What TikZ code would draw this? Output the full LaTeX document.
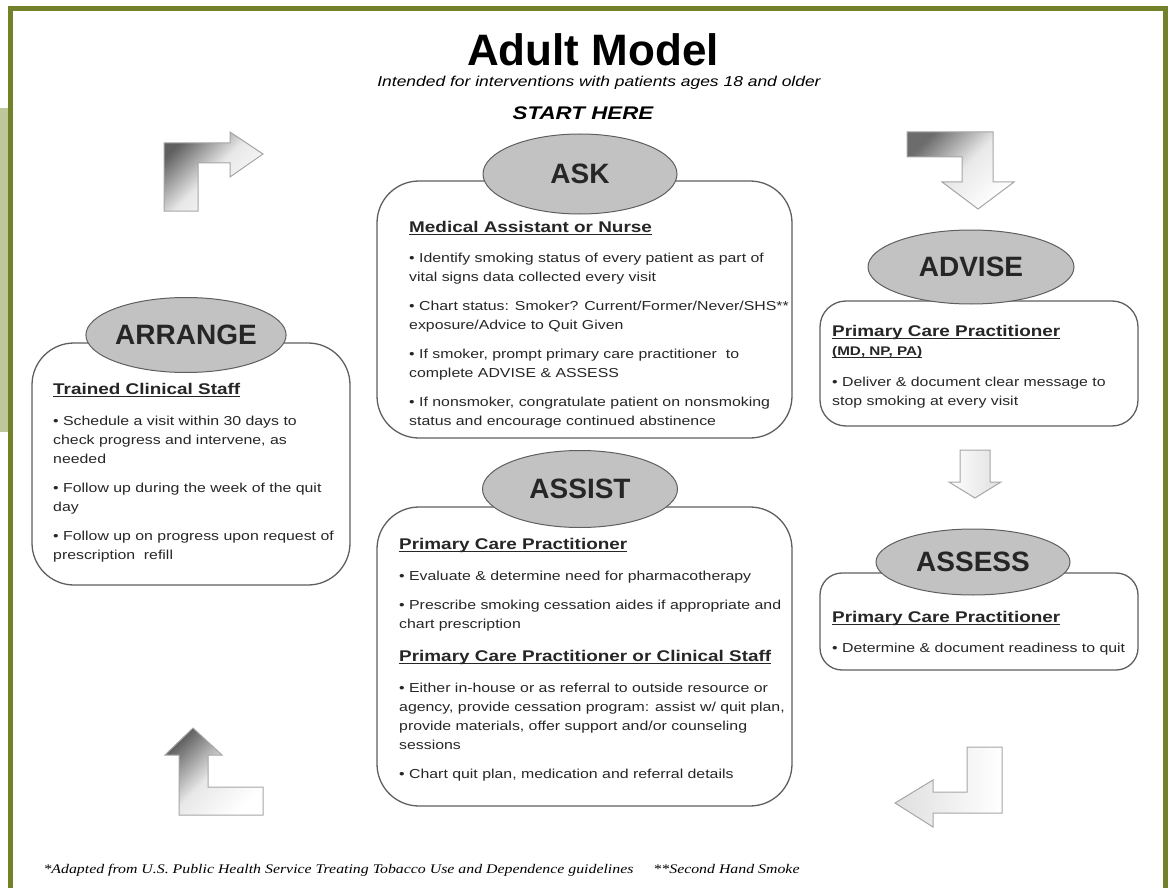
\documentclass[tikz,border=0pt]{standalone}
\usepackage{fontspec}
\setmainfont{Liberation Sans}
\newfontfamily\bodyfont{Liberation Sans}[FakeStretch=1.22]
\newfontfamily\notefont{Liberation Serif}[FakeStretch=1.2]
\usetikzlibrary{shapes.geometric}
\definecolor{framegreen}{RGB}{114,130,42}
\definecolor{stripgreen}{RGB}{190,199,152}
\definecolor{phasegray}{RGB}{194,194,194}
\definecolor{linegray}{RGB}{95,95,95}
\newsavebox{\ulbox}
\newcommand{\ulined}[1]{\sbox{\ulbox}{#1}\rlap{\rule[-2.8pt]{\wd\ulbox}{1.2pt}}\usebox{\ulbox}}
\newcommand{\head}[1]{{\bfseries\fontsize{15.5}{19}\selectfont\ulined{#1}}}
\tikzset{
  phase/.style={ellipse, draw=linegray, line width=1pt, fill=phasegray, inner sep=0pt,
    text=black!85, font=\bfseries\fontsize{28}{30}\selectfont},
  card/.style={draw=linegray, line width=1.3pt, fill=white, inner sep=0pt},
  cardtext/.style={anchor=north west, align=left, inner sep=0pt, text=black!85,
    font=\bodyfont\fontsize{13}{19}\selectfont},
  turnarrow/.style={draw=gray!70, line width=1pt, top color=#1, bottom color=white,
    middle color=gray!18, shading angle=45}
}

\begin{document}
\begin{tikzpicture}[x=1pt,y=-1pt]
\useasboundingbox (0,0) rectangle (1168,888);

% frame
\fill[stripgreen] (0,108) rectangle (8,432);
\draw[framegreen, line width=5pt] (10,888) -- (10,8.5) -- (1165.5,8.5) -- (1165.5,888);

\node (title) at (593,50) {\bfseries\fontsize{44}{48}\selectfont Adult Model};
\node (intended) at (599,83) {\bodyfont\itshape\fontsize{14.3}{16}\selectfont Intended for interventions with patients ages 18 and older};
\node (start) at (583,113) {\bodyfont\bfseries\itshape\fontsize{18.3}{20}\selectfont START HERE};

% boxes
\node[card, rounded corners=42pt, minimum width=415pt, minimum height=257pt] (askbox) at (584.5,309.5) {};
\node[card, rounded corners=26pt, minimum width=318pt, minimum height=125pt] (advisebox) at (979,363.5) {};
\node[card, rounded corners=22pt, minimum width=318pt, minimum height=97pt] (assessbox) at (979,621.5) {};
\node[card, rounded corners=42pt, minimum width=415pt, minimum height=299pt] (assistbox) at (584.5,656.5) {};
\node[card, rounded corners=42pt, minimum width=318pt, minimum height=242pt] (arrangebox) at (191,464) {};

% phases
\node[phase, minimum width=194pt, minimum height=80pt] (ask) at (580,174) {ASK};
\node[phase, minimum width=206pt, minimum height=74pt] (advise) at (971,267) {ADVISE};
\node[phase, minimum width=194pt, minimum height=66pt] (assess) at (973,562) {ASSESS};
\node[phase, minimum width=195pt, minimum height=77pt] (assist) at (580,489) {ASSIST};
\node[phase, minimum width=194pt, minimum height=75pt] (arrange) at (186,335) {ARRANGE};

\node[cardtext] (asktext) at (409,221) {\head{Medical Assistant or Nurse}\\[11pt]
• Identify smoking status of every patient as part of\\
vital signs data collected every visit\\[10pt]
• Chart status: Smoker? Current/Former/Never/SHS**\\
exposure/Advice to Quit Given\\[10pt]
• If smoker, prompt primary care practitioner \ to\\
complete ADVISE \& ASSESS\\[10pt]
• If nonsmoker, congratulate patient on nonsmoking\\
status and encourage continued abstinence};

\node[cardtext] (advisetext) at (832,325) {\head{Primary Care Practitioner}\\
{\bfseries\fontsize{12.5}{19}\selectfont\ulined{(MD, NP, PA)}}\\[12pt]
• Deliver \& document clear message to\\
stop smoking at every visit};

\node[cardtext] (assesstext) at (832,611) {\head{Primary Care Practitioner}\\[11pt]
• Determine \& document readiness to quit};

\node[cardtext] (assisttext) at (399,538) {\head{Primary Care Practitioner}\\[12pt]
• Evaluate \& determine need for pharmacotherapy\\[10pt]
• Prescribe smoking cessation aides if appropriate and\\
chart prescription\\[14pt]
\head{Primary Care Practitioner or Clinical Staff}\\[12pt]
• Either in-house or as referral to outside resource or\\
agency, provide cessation program: assist w/ quit plan,\\
provide materials, offer support and/or counseling\\
sessions\\[10pt]
• Chart quit plan, medication and referral details};

\node[cardtext] (arrangetext) at (53,383) {\head{Trained Clinical Staff}\\[12pt]
• Schedule a visit within 30 days to\\
check progress and intervene, as\\
needed\\[10pt]
• Follow up during the week of the quit\\
day\\[10pt]
• Follow up on progress upon request of\\
prescription \ refill};

% block arrows
\shade[turnarrow=gray!75!black] (164,211) -- (164,143) -- (230,143) -- (230,132) -- (263,154) -- (230,177) -- (230,163) -- (198,163) -- (198,211) -- cycle;
\shade[turnarrow=gray!85!black] (907,132) -- (993,132) -- (993,182) -- (1014,182) -- (978,209) -- (942,182) -- (962,182) -- (962,157) -- (907,157) -- cycle;
\shade[turnarrow=gray!75!black] (179,815) -- (179,755) -- (165,755) -- (193,728) -- (222,755) -- (208,755) -- (208,787) -- (263,787) -- (263,815) -- cycle;
\shade[draw=gray!70, line width=1pt, left color=gray!25, right color=white] (1002,747) -- (1002,813) -- (933,813) -- (933,827) -- (895,803) -- (933,780) -- (933,792) -- (967,792) -- (967,747) -- cycle;
\shade[draw=gray!70, line width=1pt, left color=white, right color=gray!25] (960,450) -- (990,450) -- (990,482) -- (1001,482) -- (975,498) -- (949,482) -- (960,482) -- cycle;

\node[anchor=west] (note) at (40,870) {\notefont\itshape\fontsize{13.2}{15}\selectfont *Adapted from U.S. Public Health Service Treating Tobacco Use and Dependence guidelines\hspace{20pt}**Second Hand Smoke};
\end{tikzpicture}
\end{document}
